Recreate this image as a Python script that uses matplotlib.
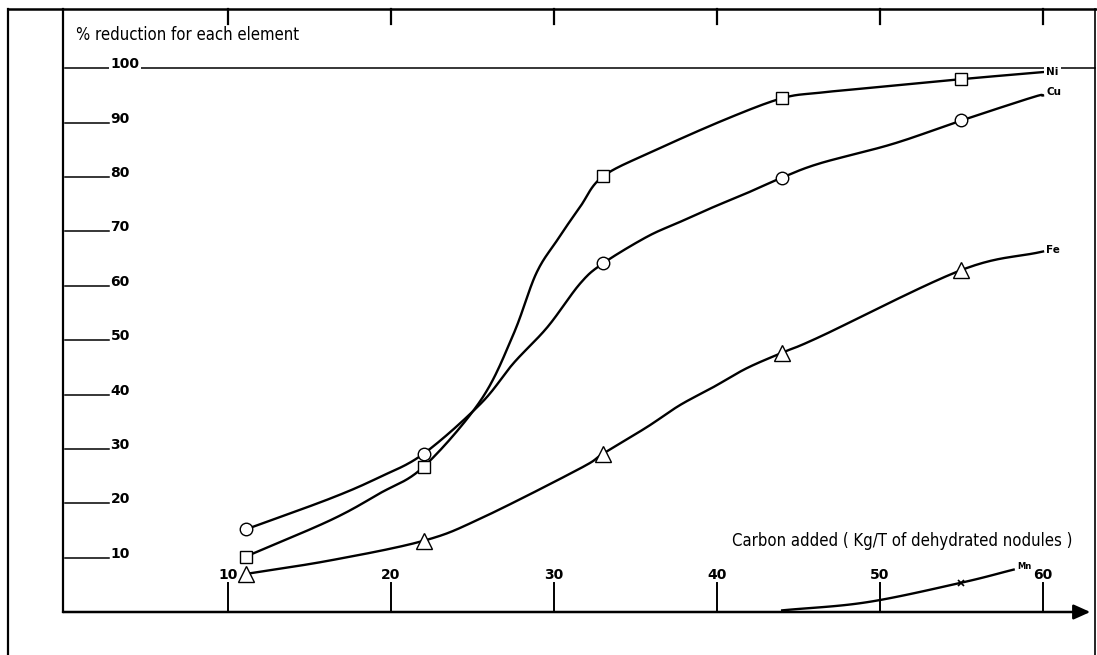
import numpy as np
import matplotlib
matplotlib.use('Agg')
from matplotlib import pyplot as plt
from matplotlib.lines import Line2D

x_pts = [11.1, 22, 33, 44, 55]
ni_pts = [10.2, 26.7, 80.1, 94.5, 98.0]
cu_pts = [15.2, 29.1, 64.1, 79.9, 90.4]
fe_pts = [7.0, 13.1, 29.1, 47.7, 62.9]
mn_x_pts = [55]
mn_pts = [5.4]

# Tracé des courbes (lues le long du trait)
ni_cx = [11.1, 16.3, 19.3, 22, 25.5, 27.5, 28.9, 30.2, 31.6, 33, 36.2, 40.6, 44, 46.3, 49.4, 55, 60]
ni_cy = [10.2, 16.9, 21.8, 26.7, 38.9, 51.0, 62.2, 68.4, 74.5, 80.1, 84.9, 90.7, 94.5, 95.5, 96.4, 98.0, 99.3]
cu_cx = [11.1, 16.3, 19.3, 22, 25.5, 27.5, 29.6, 31.6, 33, 35.7, 37.7, 39.8, 41.8, 44, 46.3, 50.8, 55, 59.4, 60]
cu_cy = [15.2, 20.9, 24.8, 29.1, 38.3, 45.7, 52.4, 60.4, 64.1, 69.0, 71.7, 74.5, 77.0, 79.9, 82.5, 86.1, 90.4, 94.7, 95.0]
fe_cx = [11.1, 16.3, 22, 25.5, 31.6, 33, 35.7, 37.7, 39.8, 41.8, 44, 46.3, 55, 60]
fe_cy = [7.0, 9.5, 13.1, 17.2, 26.4, 29.1, 34.0, 38.0, 41.4, 44.8, 47.7, 50.6, 62.9, 66.3]
mn_cx = [44, 49.2, 55, 58.2]
mn_cy = [0.3, 1.8, 5.4, 7.8]

x_ticks = [10, 20, 30, 40, 50, 60]
y_ticks = [10, 20, 30, 40, 50, 60, 70, 80, 90]

def smooth(xs, ys, n=24):
    # Catmull-Rom a travers les points lus
    p = np.column_stack([xs, ys]).astype(float)
    p = np.vstack([2 * p[0] - p[1], p, 2 * p[-1] - p[-2]])
    out = []
    t = np.linspace(0, 1, n)[:, None]
    for i in range(1, len(p) - 2):
        p0, p1, p2, p3 = p[i - 1], p[i], p[i + 1], p[i + 2]
        seg = 0.5 * ((2 * p1) + (-p0 + p2) * t + (2 * p0 - 5 * p1 + 4 * p2 - p3) * t ** 2
                     + (-p0 + 3 * p1 - 3 * p2 + p3) * t ** 3)
        out.append(seg if i == 1 else seg[1:])
    s = np.vstack(out)
    return s[:, 0], s[:, 1]

W, H = 1097, 655
fig = plt.figure(figsize=(W / 100, H / 100), dpi=100)
ax = fig.add_axes([63 / W, 43 / H, (1095 - 63) / W, (646 - 43) / H])
xmax = (1095 - 65) / 16.3
ax.set_xlim(-0.12, xmax)
ax.set_ylim(0, 110.9)
for s in ['top', 'right', 'bottom']:
    ax.spines[s].set_visible(False)
ax.spines['left'].set_linewidth(1.6)
ax.set_xticks([])
ax.set_yticks([])

# Cadre exterieur
fig.add_artist(Line2D([8 / W, 8 / W], [0, 646 / H], color='k', lw=1.6))
fig.add_artist(Line2D([8 / W, 1], [646 / H, 646 / H], color='k', lw=1.8))
fig.add_artist(Line2D([1095 / W, 1095 / W], [0, 646 / H], color='k', lw=1.2))

# Axe des x avec fleche
ax.annotate('', xy=(62.9, 0), xytext=(-0.12, 0), annotation_clip=False,
            arrowprops=dict(arrowstyle='-|>,head_length=1.0,head_width=0.45', color='k',
                            lw=1.8, shrinkA=0, shrinkB=0))

tick_font = dict(family='DejaVu Sans', weight='bold', size=10)
for v in y_ticks:
    ax.plot([0, 2.7], [v, v], color='k', lw=1.1)
    ax.text(2.8, v, str(v), ha='left', va='baseline', **tick_font)
ax.plot([0, xmax], [100, 100], color='k', lw=1.1, clip_on=False)
ax.text(2.8, 100, '100', ha='left', va='baseline', zorder=3,
        bbox=dict(facecolor='white', edgecolor='none', pad=1), **tick_font)
for v in x_ticks:
    ax.plot([v, v], [0, 5.3], color='k', lw=1.4)
    ax.plot([v, v], [108.1, 110.9], color='k', lw=1.6, clip_on=False)
    ax.text(v, 5.6, str(v), ha='center', va='bottom', **tick_font)

# Courbes
for cx, cy, px, py, m, ms in [(ni_cx, ni_cy, x_pts, ni_pts, 's', 9),
                              (cu_cx, cu_cy, x_pts, cu_pts, 'o', 9),
                              (fe_cx, fe_cy, x_pts, fe_pts, '^', 11)]:
    sx, sy = smooth(cx, cy)
    ax.plot(sx, sy, color='k', lw=1.7, zorder=2)
    ax.plot(px, py, ls='none', marker=m, ms=ms, mfc='white', mec='k', mew=1.0, zorder=4)
sx, sy = smooth(mn_cx, mn_cy)
ax.plot(sx, sy, color='k', lw=1.7, zorder=2)
ax.plot(mn_x_pts, mn_pts, ls='none', marker='x', ms=4, mec='k', mew=1.2, zorder=4)

lab_font = dict(family='DejaVu Sans', weight='bold', size=7.5)
ax.text(60.2, 99.3, 'Ni', ha='left', va='center', zorder=5,
        bbox=dict(facecolor='white', edgecolor='none', pad=1.5), **lab_font)
ax.text(60.2, 95.6, 'Cu', ha='left', va='center', **lab_font)
ax.text(60.2, 66.6, 'Fe', ha='left', va='center', **lab_font)
ax.text(58.4, 8.3, 'Mn', ha='left', va='center', family='DejaVu Sans', weight='bold', size=6)

title_font = dict(family='DejaVu Sans', stretch='condensed', size=12)
ax.text(0.7, 105.2, '% reduction for each element', ha='left', va='baseline', **title_font)
ax.text(61.8, 12.2, 'Carbon added ( Kg/T of dehydrated nodules )', ha='right', va='baseline',
        **title_font)

fig.savefig('out.png', dpi=100)
